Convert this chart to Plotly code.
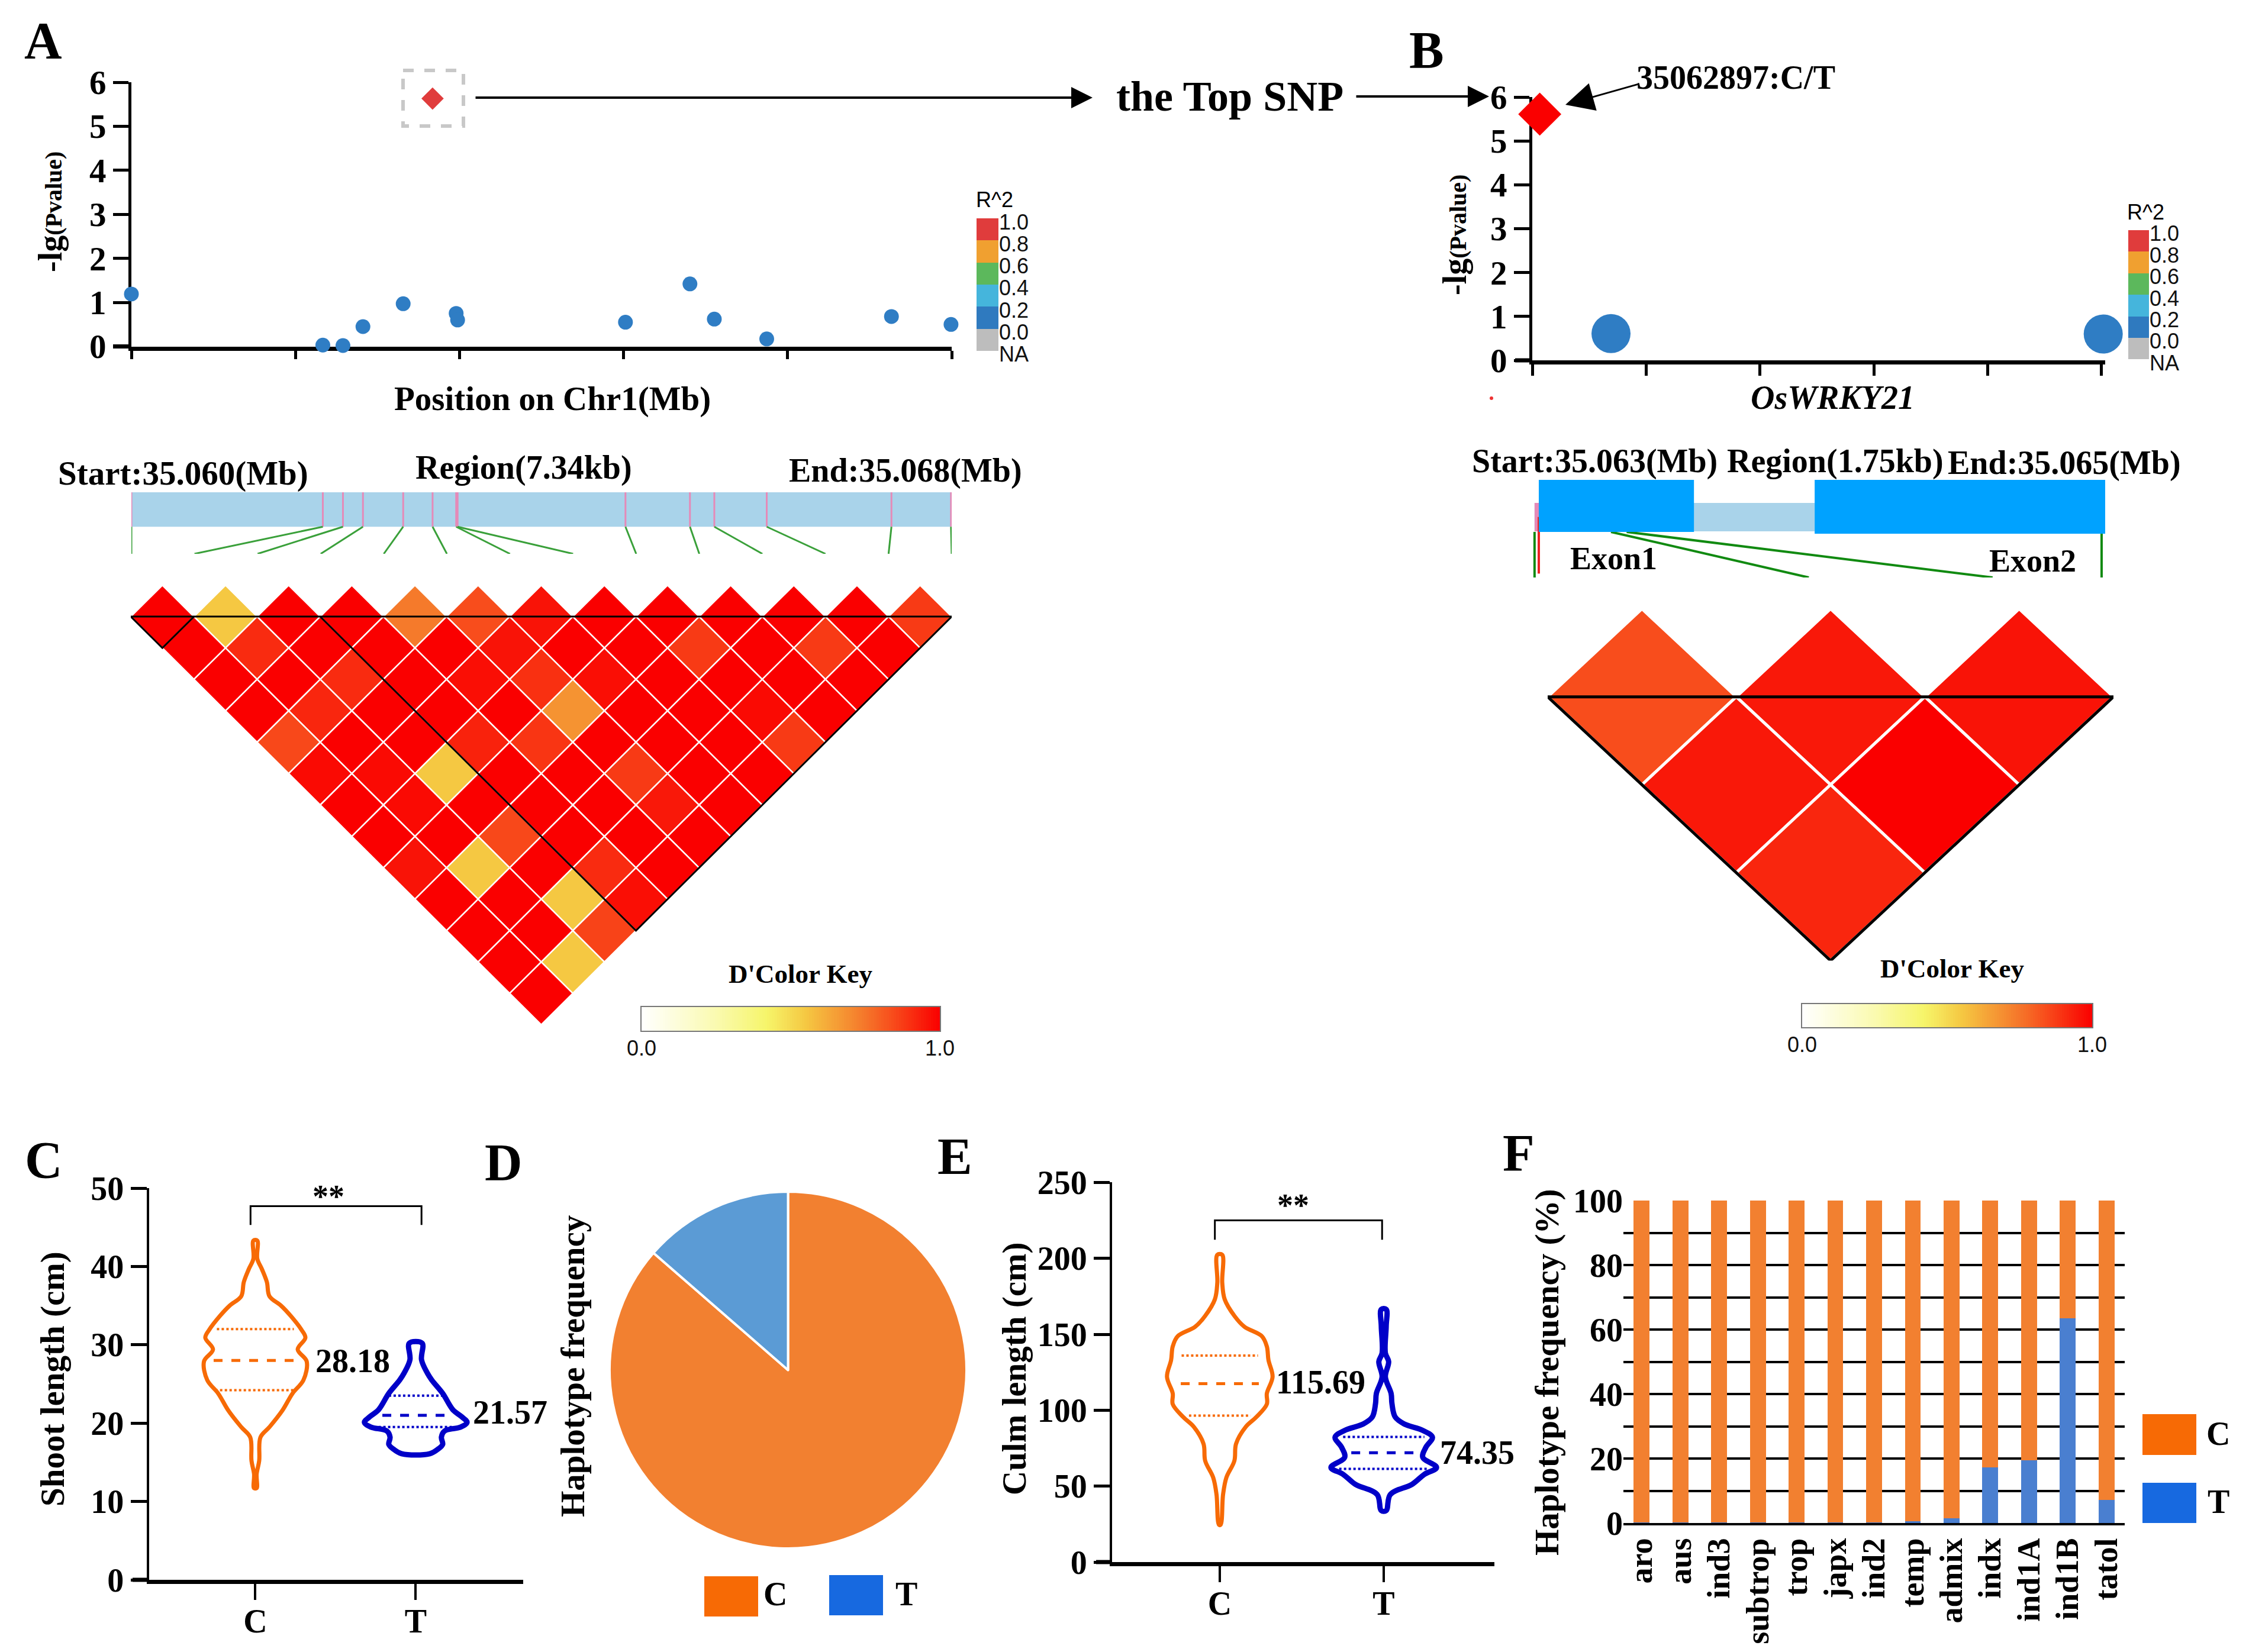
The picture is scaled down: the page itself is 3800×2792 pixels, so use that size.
import numpy as np
import plotly.graph_objects as go
from plotly.colors import sample_colorscale

W, H = 3800, 2792
SERIF = "Liberation Serif"
SANS = "Liberation Sans"

# ---------- data ----------
a_kb = [0.0, 1.713, 1.893, 2.072, 2.432, 2.906, 2.919, 4.421, 4.998, 5.216, 5.685, 6.801, 7.334]
a_lg = [1.19, 0.03, 0.02, 0.45, 0.97, 0.75, 0.60, 0.55, 1.42, 0.62, 0.17, 0.68, 0.50]
a_top_kb = [2.695]
a_top_lg = [5.63]
a_snp_kb = [0.0, 1.713, 1.893, 2.072, 2.432, 2.695, 2.906, 2.919, 4.421, 4.998, 5.216, 5.685, 6.801, 7.334]

b_kb = [0.242, 1.755]
b_lg = [0.61, 0.60]
b_top_kb = [0.023]
b_top_lg = [5.61]
b_exon_start = [0.02, 0.868]
b_exon_end = [0.497, 1.761]
b_exon_bottom = [0.467, 0.449]
b_snp_top = [0.007, 0.242, 0.29, 1.75]
b_snp_bottom = [0.007, 0.85, 1.415, 1.75]

r2_labels = ["NA", "0.0", "0.2", "0.4", "0.6", "0.8", "1.0"]
r2_colors = ["#bdbdbd", "#2f7abf", "#45b5dc", "#5cb85c", "#f0a030", "#e03c3c"]

ld_a = [
    [1, .55, 1, 1, .74, .84, .96, 1, 1, 1, 1, 1, .88],
    [1, .91, 1, 1, 1, .96, 1, 1, .88, 1, .88, 1],
    [1, 1, .91, 1, .97, .90, .97, 1, 1, 1, 1],
    [1, .92, 1, 1, 1, .68, 1, 1, .98, 1],
    [.85, 1, 1, .93, .89, 1, 1, 1, .88],
    [.98, .98, .55, 1, 1, .88, 1, 1],
    [1, .98, 1, 1, 1, .95, 1],
    [1, 1, .85, 1, 1, 1],
    [.96, .55, 1, .91, 1],
    [1, 1, .55, .97],
    [1, 1, .86],
    [1, .55],
    [1],
]
ld_a_blocks = [(0, 1), (3, 13)]
ld_b = [[.84, .95, .96], [.95, 1.0], [.92]]
ld_b_blocks = [(0, 3)]
key_scale = [[0, "#ffffff"], [.25, "#fafab0"], [.42, "#f6f56a"], [.55, "#f5c842"],
             [.75, "#f5762a"], [.85, "#f8481a"], [1, "#fa0000"]]

shoot_c_y = [43.3, 41.0, 39.7, 38.0, 36.2, 35.0, 33.7, 31.9, 30.9, 29.4, 27.9, 25.5, 23.8, 21.6, 19.5, 18.2, 15.2, 13.5, 11.7]
shoot_c_w = [.012, .012, .04, .072, .088, .16, .22, .288, .312, .264, .32, .30, .232, .168, .088, .032, .024, .008, .008]
shoot_t_y = [30.2, 28.1, 26.4, 25.5, 23.8, 21.7, 20.8, 20.1, 19.5, 19.0, 18.2, 17.3, 16.7, 16.1]
shoot_t_w = [.04, .036, .072, .10, .168, .232, .288, .32, .28, .18, .16, .168, .14, .088]
shoot_c_q = [24.2, 28.0, 32.0]
shoot_c_qw = [.25, .26, .24]
shoot_t_q = [19.5, 21.0, 23.5]
shoot_t_qw = [.232, .208, .168]

culm_c_y = [202.3, 184, 173, 162, 155, 148.7, 142, 133, 122, 111, 104, 95.5, 89, 77.8, 66.7, 55.6, 44.5, 24.6]
culm_c_w = [.015, .015, .03, .09, .15, .257, .287, .297, .322, .287, .287, .223, .158, .099, .089, .04, .02, .005]
culm_t_y = [166.4, 155.4, 137.6, 132, 122, 111, 104.4, 95.5, 91, 86.7, 82.2, 75.6, 69, 62.3, 57.8, 51.2, 44.5, 33.9]
culm_t_w = [.015, .015, .01, .03, .01, .045, .05, .07, .124, .238, .297, .257, .238, .322, .248, .173, .04, .015]
culm_c_q = [96.4, 117.5, 136]
culm_c_qw = [.188, .238, .233]
culm_t_q = [61.4, 72, 82.4]
culm_t_qw = [.272, .198, .248]

pie_labels = ["C", "T"]
pie_values = [86.4, 13.6]

groups = ["aro", "aus", "ind3", "subtrop", "trop", "japx", "ind2", "temp", "admix", "indx", "ind1A", "ind1B", "tatol"]
hap_t = [0.1, 0.1, 0.2, 0.1, 0.2, 0.1, 0.2, 0.5, 1.4, 17.2, 19.5, 63.5, 7.1]
hap_c = [99.9, 99.9, 99.8, 99.9, 99.8, 99.9, 99.8, 99.5, 98.6, 82.8, 80.5, 36.5, 92.9]

# ---------- helpers ----------
fig = go.Figure()
ax_n = 0
annots, shapes = [], []


def fx(p):
    return p / W


def fy(p):
    return 1 - p / H


def new_axes(x0, x1, y0, y1, xopt, yopt):
    """Create one x/y axis pair covering the given pixel box."""
    global ax_n
    ax_n += 1
    s = "" if ax_n == 1 else str(ax_n)
    xa = dict(domain=[fx(x0), fx(x1)], anchor="y" + s, showgrid=False, zeroline=False, layer="below traces",
              automargin=False)
    ya = dict(domain=[fy(y1), fy(y0)], anchor="x" + s, showgrid=False, zeroline=False, layer="below traces",
              automargin=False)
    xa.update(xopt)
    ya.update(yopt)
    fig.update_layout({"xaxis" + s: xa, "yaxis" + s: ya})
    return "x" + s, "y" + s


def text(s, x, y, size=54, angle=0, bold=True, family=SERIF, color="black"):
    annots.append(dict(text=s, xref="paper", yref="paper", x=fx(x), y=fy(y), showarrow=False,
                       xanchor="center", yanchor="middle", textangle=angle,
                       font=dict(family=family, size=size, color=color, weight=700 if bold else 400)))


def arrow(x0, y0, x1, y1, width=4, size=3):
    annots.append(dict(text="", xref="paper", yref="paper", x=fx(x1), y=fy(y1), axref="pixel", ayref="pixel",
                       ax=x0 - x1, ay=y0 - y1, showarrow=True, arrowhead=2, arrowwidth=width,
                       arrowsize=size, arrowcolor="black"))


def stub(x0, x1, y, width):
    shapes.append(dict(type="line", xref="paper", yref="paper", x0=fx(x0), x1=fx(x1), y0=fy(y), y1=fy(y),
                       line=dict(color="black", width=width)))


def tick_font(size=56):
    return dict(family=SERIF, size=size, color="black", weight=700)


def line_trace(xs, ys, xa, ya, color, width, dash="solid", shape="linear"):
    fig.add_trace(go.Scatter(x=xs, y=ys, xaxis=xa, yaxis=ya, mode="lines", hoverinfo="skip",
                             line=dict(color=color, width=width, dash=dash, shape=shape), cliponaxis=False))


def manhattan(x0, x1, y0, y1, xmax, xticks_at, kb, lg, top_kb, top_lg, dot, diam, ticklen_x, top_col):
    xa, ya = new_axes(x0, x1, y0, y1,
                      dict(range=[0, xmax], tickvals=xticks_at,
                           showticklabels=False, ticks="outside", ticklen=ticklen_x, tickwidth=5, tickcolor="black",
                           showline=True, linecolor="black", linewidth=7),
                      dict(range=[0, 6], tickvals=list(range(7)), ticks="outside", ticklen=26, tickwidth=5,
                           tickcolor="black", showline=True, linecolor="black", linewidth=5,
                           tickfont=tick_font(57)))
    fig.add_trace(go.Scatter(x=kb, y=lg, xaxis=xa, yaxis=ya, mode="markers", cliponaxis=False,
                             marker=dict(color="#2f7dc4", size=dot, symbol="circle")))
    fig.add_trace(go.Scatter(x=top_kb, y=top_lg, xaxis=xa, yaxis=ya, mode="markers", cliponaxis=False,
                             marker=dict(color=top_col, size=diam, symbol="diamond")))


def r2_key(x0, x1, y_top, box):
    xa, ya = new_axes(x0, x1, y_top - box / 2, y_top + 6.5 * box,
                      dict(range=[-.5, .5], visible=False),
                      dict(range=[-.5, 6.5], side="right", tickvals=[i - .16 for i in range(7)], ticktext=r2_labels,
                           tickfont=dict(family=SANS, size=36, color="#111"), ticks="", showline=False))
    for c in r2_colors:
        fig.add_trace(go.Bar(x=[0], y=[1], xaxis=xa, yaxis=ya, width=1, marker=dict(color=c, line=dict(width=0)),
                             hoverinfo="skip"))


def ld_panel(x0, x1, y_tip, y_bottom, rows, blocks, white_w, black_w):
    n = len(rows)
    xa, ya = new_axes(x0, x1, y_tip, y_bottom, dict(range=[0, n], visible=False),
                      dict(range=[n, -1], visible=False))
    for r, row in enumerate(rows):
        for i, d in enumerate(row):
            j = i + r + 1
            cx = (i + j) / 2
            col = sample_colorscale(key_scale, [d])[0]
            fig.add_trace(go.Scatter(x=[cx - .5, cx, cx + .5, cx, cx - .5], y=[r, r - 1, r, r + 1, r],
                                     xaxis=xa, yaxis=ya, mode="lines", fill="toself", fillcolor=col,
                                     line=dict(color="white", width=white_w), hoverinfo="skip", cliponaxis=False))
    line_trace([0, n], [0, 0], xa, ya, "black", black_w)
    for a, b in blocks:
        line_trace([a, (a + b) / 2, b], [0, b - a, 0], xa, ya, "black", black_w)


def color_key(x0, x1, y0, y1):
    xa, ya = new_axes(x0, x1, y0, y1,
                      dict(range=[0, 1], tickvals=[0, 1], ticktext=["0.0", "1.0"], ticks="", showline=True,
                           mirror=True, linecolor="#777", linewidth=2, ticklabelstandoff=-3,
                           tickfont=dict(family=SANS, size=36, color="#111")),
                      dict(range=[0, 1], showticklabels=False, ticks="", showline=True, mirror=True,
                           linecolor="#777", linewidth=2))
    fig.add_trace(go.Heatmap(x=np.linspace(0, 1, 121), y=[0, 1], z=[np.linspace(0, 1, 121)] * 2, colorscale=key_scale,
                             zmin=0, zmax=1, showscale=False, xaxis=xa, yaxis=ya, hoverinfo="skip"))


def violin(xa, ya, center, ys, ws, q, qw, color, lw):
    xs = [center + w for w in ws] + [center - w for w in ws[::-1]] + [center + ws[0]]
    yy = list(ys) + list(ys[::-1]) + [ys[0]]
    line_trace(xs, yy, xa, ya, color, lw, shape="spline")
    for k, (v, w) in enumerate(zip(q, qw)):
        line_trace([center - w, center + w], [v, v], xa, ya, color, 5 if k == 1 else 4, "dash" if k == 1 else "dot")


def violin_axes(x0, x1, y0, y1, xrange, ymax, dtick):
    return new_axes(x0, x1, y0, y1,
                    dict(range=xrange, tickvals=[0, 1], ticktext=["C", "T"], ticks="outside", ticklen=27, tickwidth=4,
                         tickcolor="black", showline=True, linecolor="black", linewidth=7, tickfont=tick_font(56),
                         ticklabelstandoff=-12),
                    dict(range=[0, ymax], dtick=dtick, ticks="outside", ticklen=27, tickwidth=5, tickcolor="black",
                         showline=True, linecolor="black", linewidth=4, tickfont=tick_font(56)))


# ---------- panel A ----------
manhattan(222, 1608, 139, 585.5, 7.34, [7.34 * i / 5 for i in range(6)], a_kb, a_lg, a_top_kb, a_top_lg, 25, 29, 14, "#e03c3c")
stub(191, 222, 585.5, 7)
r2_key(1650, 1687, 369, 37.3)
xa, ya = new_axes(222, 1608, 832, 936, dict(range=[0, 7.34], visible=False), dict(range=[0, 1], visible=False))
shapes.append(dict(type="rect", xref=xa, yref=ya, x0=0, x1=7.34, y0=.44, y1=1, fillcolor="#a9d3ea",
                   line=dict(width=0), layer="below"))
for k, s in enumerate(a_snp_kb):
    line_trace([s, s], [.44, 1], xa, ya, "#e58ab8", 3)
    line_trace([s, k * 7.34 / 13], [.44, 0], xa, ya, "#3aa03a", 3)
ld_panel(221, 1608, 989, 1732, ld_a, ld_a_blocks, 2.5, 3)
color_key(1084, 1588, 1702, 1742)

shapes.append(dict(type="rect", xref="paper", yref="paper", x0=fx(681), x1=fx(783), y0=fy(119), y1=fy(213),
                   line=dict(color="#c8c8c8", width=6, dash="dash")))
arrow(802, 165, 1846, 165, 4, 1.8)
arrow(2290, 163, 2516, 163, 4, 1.8)
text("the Top SNP", 2078, 163, 72)
text("A", 73, 69, 88)
text('-lg<span style="font-size:40px">(Pvalue)</span>', 85, 358, 56, -90)
text("Position on Chr1(Mb)", 933, 674, 57)
text("Start:35.060(Mb)", 309, 800, 57)
text("Region(7.34kb)", 885, 791, 56)
text("End:35.068(Mb)", 1530, 795, 56)
text("R^2", 1680, 337, 36, bold=False, family=SANS)
text("D'Color Key", 1352, 1646, 45)

# ---------- panel B ----------
manhattan(2589, 3557, 164, 609, 1.761, [1.75 * i / 5 for i in range(6)], b_kb, b_lg, b_top_kb, b_top_lg, 66, 56, 19, "#fa0000")
stub(2560, 2589, 609, 7)
r2_key(3596, 3631, 389, 36.4)
xa, ya = new_axes(2589, 3557, 811, 976, dict(range=[0, 1.761], visible=False), dict(range=[0, 1], visible=False))
shapes.append(dict(type="rect", xref=xa, yref=ya, x0=b_snp_top[0], x1=b_exon_start[1], y0=.473, y1=.764,
                   fillcolor="#a9d3ea", line=dict(width=0), layer="below"))
shapes.append(dict(type="rect", xref=xa, yref=ya, x0=b_snp_top[0], x1=b_exon_start[0], y0=.473, y1=.764,
                   fillcolor="#e58ab8", line=dict(width=0), layer="below"))
for s, e, bt in zip(b_exon_start, b_exon_end, b_exon_bottom):
    shapes.append(dict(type="rect", xref=xa, yref=ya, x0=s, x1=e, y0=bt, y1=1, fillcolor="#00a2ff",
                       line=dict(width=0)))
for t, bt in zip(b_snp_top, b_snp_bottom):
    line_trace([t, bt], [.467, 0], xa, ya, "#118a11", 4)
line_trace([.02, .02], [.62, .04], xa, ya, "#ee2222", 4)
ld_panel(2615, 3571, 1029, 1623.5, ld_b, ld_b_blocks, 5, 5)
color_key(3045, 3535, 1697, 1736)

text("B", 2410, 85, 88)
text("35062897:C/T", 2933, 131, 56)
arrow(2769, 142, 2645, 177, 3, 3.2)
text('-lg<span style="font-size:40px">(Pvalue)</span>', 2458, 397, 56, -90)
text("<i>OsWRKY21</i>", 3096, 672, 56)
text("Start:35.063(Mb)", 2694, 779, 56)
text("Region(1.75kb)", 3101, 779, 56)
text("End:35.065(Mb)", 3488, 782, 56)
text("Exon1", 2726, 944, 54)
text("Exon2", 3434, 948, 54)
text("R^2", 3625, 358, 36, bold=False, family=SANS)
text("D'Color Key", 3298, 1637, 45)
shapes.append(dict(type="circle", xref="paper", yref="paper", x0=fx(2517), x1=fx(2523), y0=fy(670), y1=fy(676),
                   fillcolor="#ee3333", line=dict(width=0)))

# ---------- panel C ----------
xa, ya = violin_axes(251.5, 884, 2008, 2670, [-.664, 1.67], 50, 10)
stub(224, 251.5, 2670, 7)
violin(xa, ya, 0, shoot_c_y, shoot_c_w, shoot_c_q, shoot_c_qw, "#f76a05", 7)
violin(xa, ya, 1, shoot_t_y, shoot_t_w, shoot_t_q, shoot_t_qw, "#0000c8", 9)
line_trace([-.03, -.03, 1.036, 1.036], [45.3, 47.7, 47.7, 45.3], xa, ya, "black", 3)
text("C", 74, 1960, 88)
text("**", 555, 2022, 54)
text("28.18", 596, 2300, 56)
text("21.57", 862, 2387, 56)
text("Shoot length (cm)", 89, 2331, 57, -90)

# ---------- panel D ----------
fig.add_trace(go.Pie(labels=pie_labels, values=pie_values, sort=False, direction="clockwise", rotation=0,
                     marker=dict(colors=["#f28030", "#5b9bd5"], line=dict(color="white", width=4)),
                     textinfo="none", hoverinfo="skip", showlegend=False,
                     domain=dict(x=[fx(1030), fx(1633)], y=[fy(2617), fy(2014)])))
text("D", 851, 1965, 88)
text("Haplotype frequency", 967, 2309, 57, -90)
for x0, x1, y0, y1, c in [(1190, 1281, 2664, 2732, "#f76a05"), (1401, 1492, 2662, 2730, "#1769e0")]:
    shapes.append(dict(type="rect", xref="paper", yref="paper", x0=fx(x0), x1=fx(x1), y0=fy(y0), y1=fy(y1),
                       fillcolor=c, line=dict(width=0)))
text("C", 1310, 2694, 56)
text("T", 1531, 2694, 56)

# ---------- panel E ----------
xa, ya = violin_axes(1879, 2525, 1998.4, 2640, [-.657, 1.675], 250, 50)
stub(1852, 1879, 2640, 7)
violin(xa, ya, 0, culm_c_y, culm_c_w, culm_c_q, culm_c_qw, "#f76a05", 7)
violin(xa, ya, 1, culm_t_y, culm_t_w, culm_t_q, culm_t_qw, "#0000c8", 9)
line_trace([-.03, -.03, .99, .99], [212.3, 225, 225, 212.3], xa, ya, "black", 3)
text("E", 1613, 1954, 88)
text("**", 2185, 2037, 54)
text("115.69", 2231, 2336, 56)
text("74.35", 2496, 2455, 56)
text("Culm length (cm)", 1714, 2314, 57, -90)

# ---------- panel F ----------
xa, ya = new_axes(2743, 3590, 2029, 2574,
                  dict(range=[-.47, 12.47], tickmode="array", tickvals=list(range(len(groups))), ticktext=groups,
                       tickangle=-90, ticks="", tickfont=tick_font(54), showline=True, linecolor="black", linewidth=4),
                  dict(range=[0, 100], tickvals=list(range(0, 101, 10)),
                       ticktext=[str(v) if v % 20 == 0 else "" for v in range(0, 101, 10)],
                       showgrid=True, gridcolor="black", gridwidth=4, tickfont=tick_font(56), ticks=""))
xcat = list(range(len(groups)))
fig.add_trace(go.Bar(x=xcat, y=hap_t, xaxis=xa, yaxis=ya, width=.41, marker=dict(color="#4a7fd0", line=dict(width=0)),
                     hoverinfo="skip"))
fig.add_trace(go.Bar(x=xcat, y=hap_c, xaxis=xa, yaxis=ya, width=.41, marker=dict(color="#f28030", line=dict(width=0)),
                     hoverinfo="skip"))
text("F", 2566, 1948, 88)
text("Haplotype frequency (%)", 2614, 2319, 57, -90)
for y0, y1, c in [(2390, 2459, "#f76a05"), (2506, 2574, "#1769e0")]:
    shapes.append(dict(type="rect", xref="paper", yref="paper", x0=fx(3620), x1=fx(3711), y0=fy(y0), y1=fy(y1),
                       fillcolor=c, line=dict(width=0)))
text("C", 3748, 2423, 56)
text("T", 3748, 2538, 56)

fig.update_layout(width=W, height=H, margin=dict(l=0, r=0, t=0, b=0), paper_bgcolor="white", plot_bgcolor="white",
                  showlegend=False, barmode="stack", annotations=annots, shapes=shapes, hovermode=False)
fig.write_html("out.html", post_script="document.body.style.margin='0';", config={"displayModeBar": False})
